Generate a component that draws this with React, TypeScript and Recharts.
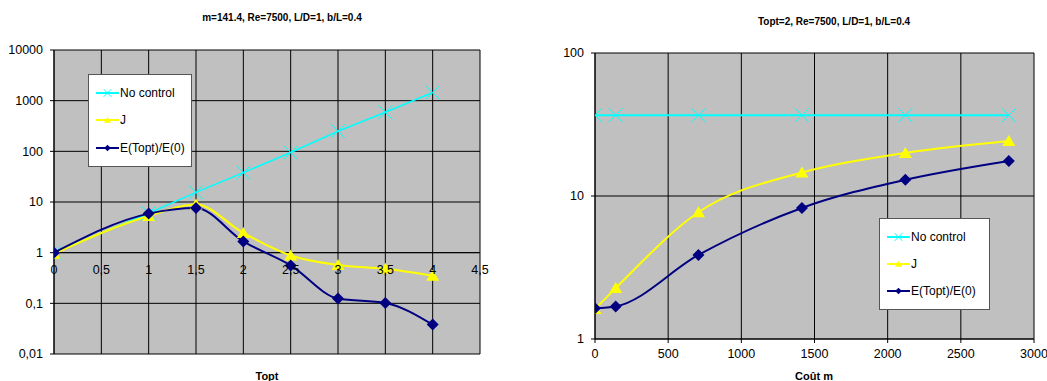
import React from 'react';
import {
  LineChart, Line, XAxis, YAxis, CartesianGrid, ReferenceLine,
} from 'recharts';

// Left chart: m=141.4 — values vs Topt
const toptValues = [0, 1, 1.5, 2, 2.5, 3, 3.5, 4];
const noControlLeft = [1, 6, 15.5, 38, 95, 250, 590, 1450];
const jLeft = [0.95, 5.3, 8.9, 2.45, 0.88, 0.57, 0.48, 0.35];
const eLeft = [1, 5.9, 7.6, 1.67, 0.56, 0.124, 0.102, 0.038];
const leftXTicks = [0, 0.5, 1, 1.5, 2, 2.5, 3, 3.5, 4, 4.5];
const leftYTicks = [0.01, 0.1, 1, 10, 100, 1000, 10000];

// Right chart: Topt=2 — values vs cost m
const costValues = [0, 141.4, 707, 1414, 2121, 2828];
const noControlRight = [36.7, 36.7, 36.7, 36.7, 36.7, 36.7];
const jRight = [1.62, 2.27, 7.7, 14.6, 20, 24.2];
const eRight = [1.64, 1.69, 3.87, 8.25, 13, 17.6];
const rightXTicks = [0, 500, 1000, 1500, 2000, 2500, 3000];
const rightYTicks = [1, 10, 100];

const seriesNames = ['No control', 'J', 'E(Topt)/E(0)'];

const leftData = toptValues.map((t, i) => ({
  x: t, nc: noControlLeft[i], j: jLeft[i], e: eLeft[i],
}));
const rightData = costValues.map((c, i) => ({
  x: c, nc: noControlRight[i], j: jRight[i], e: eRight[i],
}));

const FONT = '"Liberation Sans", Arial, sans-serif';
const CYAN = '#00ffff';
const YELLOW = '#ffff00';
const NAVY = '#000080';

type Shape = 'x' | 'triangle' | 'diamond';

function Marker({ cx, cy, shape, color, s = 1 }: { cx: number; cy: number; shape: Shape; color: string; s?: number }) {
  if (cx == null || cy == null) return null;
  if (shape === 'x') {
    const r = 7 * s;
    return (
      <g stroke={color} strokeWidth={1}>
        <line x1={cx - r} y1={cy - r} x2={cx + r} y2={cy + r} />
        <line x1={cx - r} y1={cy + r} x2={cx + r} y2={cy - r} />
      </g>
    );
  }
  if (shape === 'triangle') {
    const w = 6.5 * s;
    return <polygon points={`${cx},${cy - 6 * s} ${cx - w},${cy + 5 * s} ${cx + w},${cy + 5 * s}`} fill={color} />;
  }
  const r = 6 * s;
  return <polygon points={`${cx},${cy - r} ${cx + r},${cy} ${cx},${cy + r} ${cx - r},${cy}`} fill={color} />;
}

const dotFor = (shape: Shape, color: string) => (p: any) => (
  <Marker key={`${shape}-${p.index}`} cx={p.cx} cy={p.cy} shape={shape} color={color} />
);

const legendItems: { shape: Shape; color: string }[] = [
  { shape: 'x', color: CYAN },
  { shape: 'triangle', color: YELLOW },
  { shape: 'diamond', color: NAVY },
];

function LegendBox({ left, top, width, height }: { left: number; top: number; width: number; height: number }) {
  return (
    <div style={{
      position: 'absolute', left, top, width, height, background: '#fff', border: '1px solid #555',
      boxSizing: 'border-box', display: 'flex', flexDirection: 'column', justifyContent: 'space-around',
      padding: '4px 0 4px 7px', fontFamily: FONT, fontSize: 12, color: '#000',
    }}>
      {legendItems.map((it, i) => (
        <div key={i} style={{ display: 'flex', alignItems: 'center', height: 16 }}>
          <svg width={23} height={14} style={{ marginRight: 1 }}>
            <line x1={0} y1={7} x2={23} y2={7} stroke={it.color} strokeWidth={2} />
            <Marker cx={11.5} cy={7} shape={it.shape} color={it.color} s={0.55} />
          </svg>
          <span>{seriesNames[i]}</span>
        </div>
      ))}
    </div>
  );
}

const fmtComma = (v: number) => String(v).replace('.', ',');

// left chart plot geometry (for placing the x labels on the y=1 crossing)
const LEFT_PLOT_H = 304;
const oneOffset =
  LEFT_PLOT_H * (Math.log10(1) - Math.log10(leftYTicks[0])) /
  (Math.log10(leftYTicks[leftYTicks.length - 1]) - Math.log10(leftYTicks[0]));

const LeftXTick = ({ x, y, payload }: any) => (
  <text x={x} y={y - oneOffset + 17} textAnchor="middle" dominantBaseline="central"
    fontFamily={FONT} fontSize={12.5} fill="#000">
    {fmtComma(payload.value)}
  </text>
);

const tickStyle = { fontFamily: FONT, fontSize: 12.5, fill: '#000' };

const titleStyle: React.CSSProperties = {
  position: 'absolute', fontFamily: FONT, fontWeight: 'bold', fontSize: 10,
  transform: 'translate(-50%, -50%)', whiteSpace: 'nowrap', color: '#000',
};
const axisTitleStyle: React.CSSProperties = { ...titleStyle, fontSize: 11 };

export default function App() {
  return (
    <div style={{ position: 'absolute', left: 0, top: 0, width: 1047, height: 381, background: '#fff', overflow: 'hidden' }}>
      <div style={{ position: 'absolute', left: 0, top: 0 }}>
        <LineChart width={527} height={381} data={leftData} margin={{ top: 50, right: 47, bottom: 0, left: 0 }}>
          <CartesianGrid stroke="#000" fill="#c0c0c0" fillOpacity={1} />
          <XAxis dataKey="x" type="number" domain={[0, 4.5]} ticks={leftXTicks} height={27}
            axisLine={false} tickLine={false} tickSize={0} tickMargin={0} tick={<LeftXTick />}
            interval={0} allowDataOverflow />
          <YAxis type="number" scale="log" domain={[0.01, 10000]} ticks={leftYTicks} width={54}
            allowDataOverflow interval={0} tickFormatter={fmtComma} tick={tickStyle}
            axisLine={{ stroke: '#000' }} tickLine={{ stroke: '#000' }} tickSize={4} tickMargin={7} />
          <ReferenceLine y={1} stroke="#000" />
          <Line dataKey="nc" name={seriesNames[0]} type="linear" stroke={CYAN} strokeWidth={1.6}
            dot={dotFor('x', CYAN)} isAnimationActive={false} />
          <Line dataKey="j" name={seriesNames[1]} type="monotone" stroke={YELLOW} strokeWidth={2}
            dot={dotFor('triangle', YELLOW)} isAnimationActive={false} />
          <Line dataKey="e" name={seriesNames[2]} type="monotone" stroke={NAVY} strokeWidth={2}
            dot={dotFor('diamond', NAVY)} isAnimationActive={false} />
        </LineChart>
      </div>

      <div style={{ position: 'absolute', left: 527, top: 0 }}>
        <LineChart width={520} height={381} data={rightData} margin={{ top: 53, right: 13, bottom: 0, left: 0 }}>
          <CartesianGrid stroke="#000" fill="#c0c0c0" fillOpacity={1} />
          <XAxis dataKey="x" type="number" domain={[0, 3000]} ticks={rightXTicks} height={42}
            interval={0} allowDataOverflow tick={tickStyle}
            axisLine={{ stroke: '#000' }} tickLine={{ stroke: '#000' }} tickSize={4} tickMargin={6} />
          <YAxis type="number" scale="log" domain={[1, 100]} ticks={rightYTicks} width={68}
            allowDataOverflow interval={0} tick={tickStyle}
            axisLine={{ stroke: '#000' }} tickLine={{ stroke: '#000' }} tickSize={4} tickMargin={7} />
          <Line dataKey="nc" name={seriesNames[0]} type="linear" stroke={CYAN} strokeWidth={2}
            dot={dotFor('x', CYAN)} isAnimationActive={false} />
          <Line dataKey="j" name={seriesNames[1]} type="monotone" stroke={YELLOW} strokeWidth={2}
            dot={dotFor('triangle', YELLOW)} isAnimationActive={false} />
          <Line dataKey="e" name={seriesNames[2]} type="monotone" stroke={NAVY} strokeWidth={2}
            dot={dotFor('diamond', NAVY)} isAnimationActive={false} />
        </LineChart>
      </div>

      <LegendBox left={88} top={74} width={104} height={93} />
      <LegendBox left={879} top={218} width={111} height={92} />

      <div style={{ ...titleStyle, left: 282, top: 17 }}>m=141.4, Re=7500, L/D=1, b/L=0.4</div>
      <div style={{ ...axisTitleStyle, left: 267, top: 376 }}>Topt</div>
      <div style={{ ...titleStyle, left: 834, top: 21 }}>Topt=2, Re=7500, L/D=1, b/L=0.4</div>
      <div style={{ ...axisTitleStyle, left: 814, top: 376 }}>Coût m</div>
    </div>
  );
}
